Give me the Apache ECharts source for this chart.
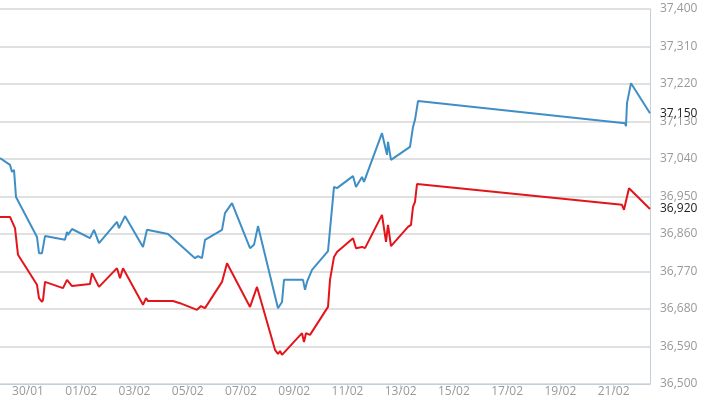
<!DOCTYPE html>
<html>
<head>
<meta charset="utf-8">
<script src="https://cdn.jsdelivr.net/npm/echarts@6/dist/echarts.min.js"></script>
<style>
html,body{margin:0;padding:0;background:#fff;}
#c{width:710px;height:399px;}
</style>
</head>
<body>
<div id="c"></div>
<script>
// x values are days counted from 30/01 00:00
var blueDays = [-1.052,-0.676,-0.601,-0.526,-0.451,0.338,0.413,0.526,0.639,1.390,1.465,1.503,1.653,2.329,2.479,2.667,3.343,3.418,3.644,4.320,4.470,5.259,5.710,6.273,6.386,6.536,6.649,7.288,7.400,7.663,8.340,8.490,8.640,9.391,9.542,9.617,10.331,10.406,10.481,10.669,11.270,11.495,11.608,12.209,12.322,12.547,12.622,13.298,13.486,13.524,13.636,14.350,14.463,14.538,14.651,22.427,22.464,22.502,22.652,23.366];
var blueValues = [37042,37026,37009,37014,36949,36853,36814,36814,36855,36846,36865,36858,36872,36850,36870,36838,36889,36874,36903,36829,36870,36860,36834,36802,36807,36802,36846,36870,36910,36934,36826,36834,36879,36682,36697,36750,36750,36726,36745,36774,36819,36973,36970,36999,36973,36997,36985,37102,37050,37081,37038,37069,37117,37134,37179,37126,37119,37174,37222,37150];
var redDays = [-1.052,-0.676,-0.488,-0.376,0.338,0.413,0.526,0.564,0.639,1.315,1.465,1.503,1.653,2.329,2.404,2.479,2.667,3.343,3.456,3.569,3.644,4.320,4.433,4.508,5.447,5.710,6.349,6.499,6.649,7.288,7.476,7.551,8.340,8.603,8.678,9.279,9.391,9.467,9.542,10.293,10.368,10.443,10.594,11.270,11.345,11.495,11.608,12.209,12.322,12.547,12.660,13.298,13.449,13.524,13.636,14.275,14.388,14.463,14.538,14.613,22.314,22.389,22.464,22.577,23.366];
var redValues = [36901,36901,36874,36810,36738,36706,36697,36702,36745,36730,36750,36750,36735,36740,36766,36762,36733,36778,36754,36778,36778,36690,36706,36699,36699,36694,36678,36687,36682,36745,36790,36790,36685,36733,36733,36582,36572,36579,36570,36622,36601,36622,36618,36685,36750,36805,36817,36850,36826,36829,36826,36906,36841,36882,36831,36877,36882,36925,36937,36980,36930,36918,36920,36970,36920];
var tickDays = [0,2,4,6,8,10,12,14,16,18,20,22];
var tickLabels = ['30/01','01/02','03/02','05/02','07/02','09/02','11/02','13/02','15/02','17/02','19/02','21/02'];
var xMin = -1.052, xMax = 23.366;
var yMin = 36500, yMax = 37400, yStep = 90;

function pairs(xs, ys){ return xs.map(function(x,i){ return [x, ys[i]]; }); }
function fmt(v){ return String(Math.round(v)).replace(/\B(?=(\d{3})+(?!\d))/g, ','); }

var chart = echarts.init(document.getElementById('c'), null, {renderer:'canvas'});
chart.setOption({
  animation: false,
  backgroundColor: '#fff',
  grid: {left: 0, right: 60, top: 9, bottom: 15, containLabel: false},
  xAxis: {
    type: 'value', min: xMin, max: xMax,
    axisLine: {show: true, onZero: false, lineStyle: {color: '#c3cfdb', width: 1}},
    axisTick: {show: true, customValues: tickDays, length: 5, lineStyle: {color: '#c3cfdb'}},
    axisLabel: {
      customValues: tickDays, margin: 2, color: '#999', fontSize: 12, fontFamily: 'Open Sans',
      formatter: function(v){ var i = tickDays.indexOf(Math.round(v)); return i >= 0 ? tickLabels[i] : ''; }
    },
    splitLine: {show: false}
  },
  yAxis: {
    type: 'value', position: 'right', min: yMin, max: yMax, interval: yStep,
    axisLine: {show: true, onZero: false, lineStyle: {color: '#c3cfdb', width: 1}},
    axisTick: {show: false},
    axisLabel: {margin: 10, color: '#999', fontSize: 12, fontFamily: 'Open Sans', formatter: fmt},
    splitLine: {show: true, lineStyle: {color: '#d6d6d6', width: 1.5}}
  },
  series: [
    {
      type: 'line', data: pairs(blueDays, blueValues), showSymbol: false, symbol: 'none',
      lineStyle: {color: '#3f8fc6', width: 2}, itemStyle: {color: '#3f8fc6'},
      endLabel: {show: true, distance: 10, color: '#222', fontSize: 12, fontFamily: 'Open Sans',
        formatter: function(p){ return fmt(p.value[1]); }}
    },
    {
      type: 'line', data: pairs(redDays, redValues), showSymbol: false, symbol: 'none',
      lineStyle: {color: '#e3151b', width: 2}, itemStyle: {color: '#e3151b'},
      endLabel: {show: true, distance: 10, color: '#222', fontSize: 12, fontFamily: 'Open Sans',
        formatter: function(p){ return fmt(p.value[1]); }}
    }
  ]
});
</script>
</body>
</html>
